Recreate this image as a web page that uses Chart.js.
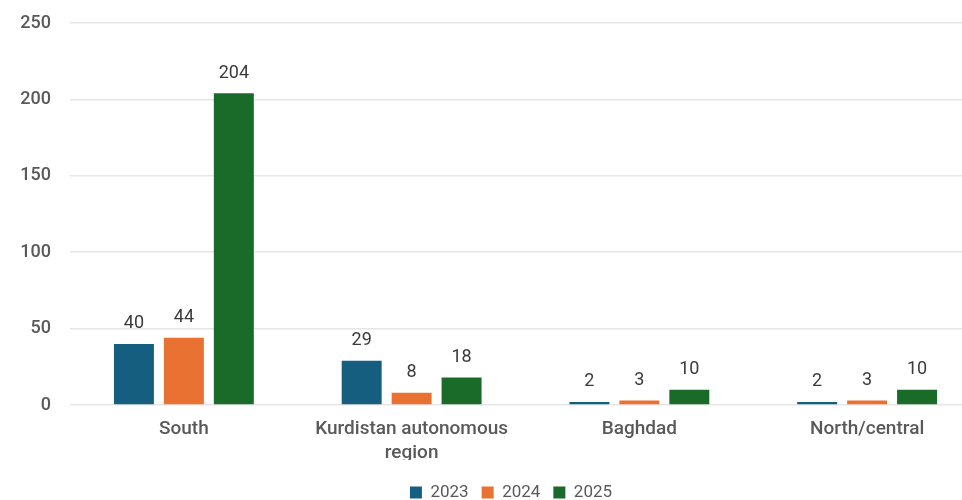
<!DOCTYPE html>
<html>
<head>
<meta charset="utf-8">
<script src="https://cdn.jsdelivr.net/npm/chart.js@4/dist/chart.umd.min.js"></script>
<style>
  html, body { margin: 0; padding: 0; overflow: hidden; background: #ffffff; }
  #wrap { position: relative; left: -1px; width: 982px; height: 500px; }
</style>
</head>
<body>
<div id="wrap"><canvas id="chart"></canvas></div>
<script>
// Regions and yearly counts
const categories = ['South', ['Kurdistan autonomous', 'region'], 'Baghdad', 'North/central'];
const years = ['2023', '2024', '2025'];
const values2023 = [40, 29, 2, 2];
const values2024 = [44, 8, 3, 3];
const values2025 = [204, 18, 10, 10];
const yTicks = [0, 50, 100, 150, 200, 250];

const colors = ['#155E80', '#E97132', '#1A6B29'];
const seriesValues = [values2023, values2024, values2025];

// Value labels above each bar
const barValueLabels = {
  id: 'barValueLabels',
  afterDatasetsDraw(chart) {
    const ctx = chart.ctx;
    ctx.save();
    ctx.font = '400 18px Roboto';
    ctx.fillStyle = '#3a3a3a';
    ctx.textAlign = 'center';
    ctx.textBaseline = 'middle';
    chart.data.datasets.forEach((ds, di) => {
      const meta = chart.getDatasetMeta(di);
      meta.data.forEach((bar, i) => {
        ctx.fillText(String(ds.data[i]), bar.x, bar.y - 20);
      });
    });
    ctx.restore();
  }
};

// Place the legend row near the bottom edge
const legendPlacement = {
  id: 'legendPlacement',
  afterLayout(chart) {
    const lg = chart.legend;
    if (!lg) return;
    const dx = 21, dy = 11;
    lg.left += dx; lg.right += dx;
    lg.top += dy; lg.bottom += dy;
  }
};

new Chart(document.getElementById('chart'), {
  type: 'bar',
  data: {
    labels: categories,
    datasets: years.map((y, k) => ({
      label: y,
      data: seriesValues[k],
      backgroundColor: colors[k],
      borderWidth: 0,
      barPercentage: 0.8,
      categoryPercentage: 0.658
    }))
  },
  options: {
    responsive: true,
    maintainAspectRatio: false,
    animation: false,
    layout: { padding: { top: 23, left: 0, right: 0, bottom: 0 } },
    plugins: {
      tooltip: { enabled: false },
      legend: {
        position: 'bottom',
        labels: {
          boxWidth: 12,
          boxHeight: 12,
          padding: 13,
          color: '#595959',
          font: { family: 'Roboto', size: 17, weight: '400' }
        }
      }
    },
    scales: {
      x: {
        grid: { display: false, drawTicks: false },
        border: { display: false },
        ticks: {
          color: '#595959',
          padding: 13,
          maxRotation: 0,
          autoSkip: false,
          font: { family: 'Roboto', size: 19, weight: '500', lineHeight: 1.22 }
        },
        afterFit(scale) { scale.height = 55; }
      },
      y: {
        min: 0,
        max: 250,
        afterBuildTicks(scale) { scale.ticks = yTicks.map(v => ({ value: v })); },
        grid: { color: '#e6e6e6', lineWidth: 1.5, drawTicks: false },
        border: { display: false },
        ticks: {
          color: '#595959',
          padding: 19,
          font: { family: 'Roboto', size: 18, weight: '500', lineHeight: 0.4 }
        },
        afterFit(scale) { scale.width = 71; }
      }
    }
  },
  plugins: [barValueLabels, legendPlacement]
});
</script>
</body>
</html>
